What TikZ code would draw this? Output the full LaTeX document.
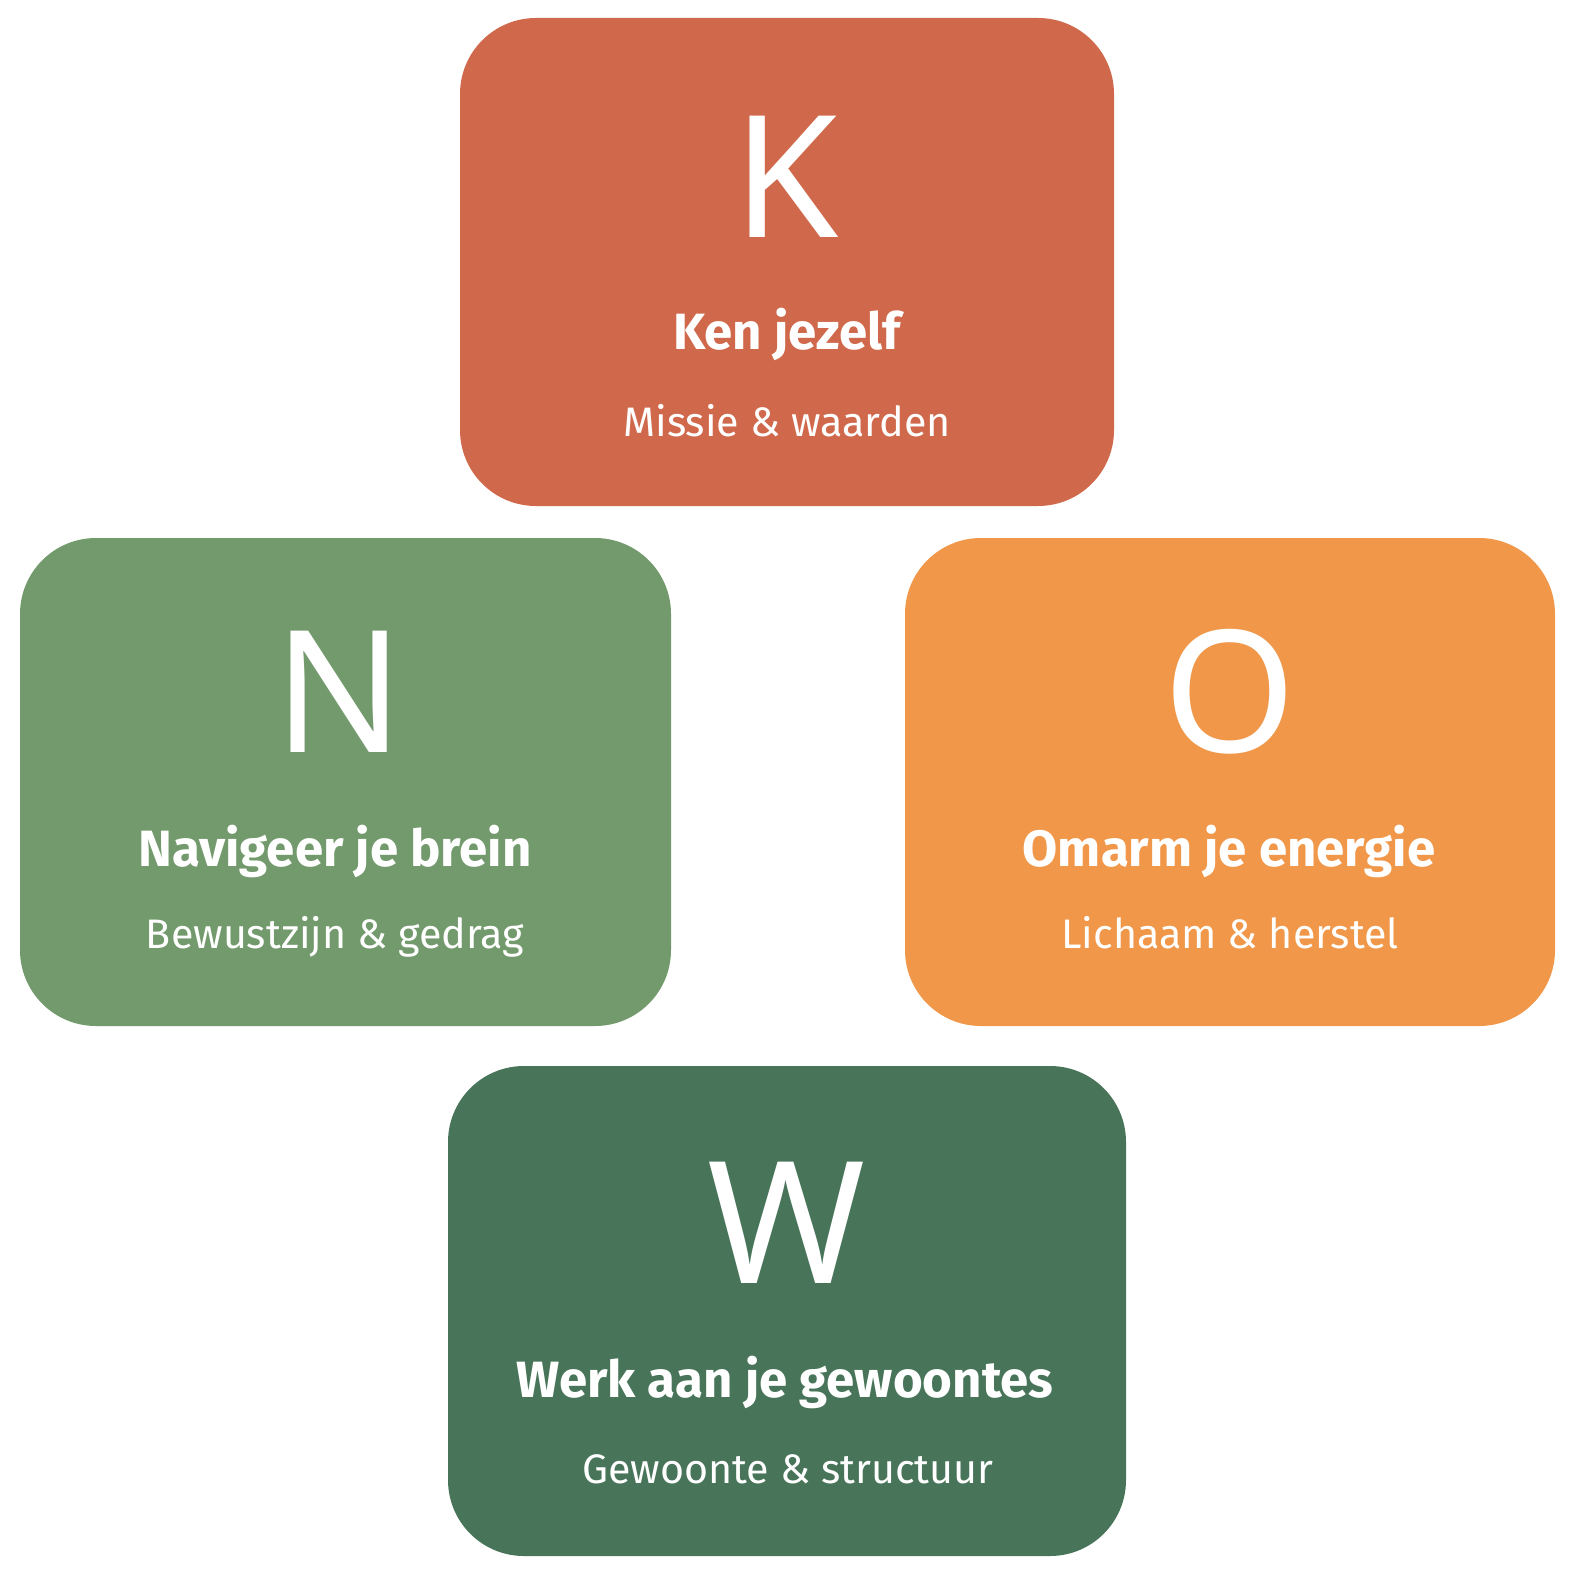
\documentclass[tikz,border=0pt]{standalone}
\usepackage{fontspec}
\setmainfont{Fira Sans}
\newfontfamily\letterf{Noto Sans}
\definecolor{kcol}{HTML}{D0694B}
\definecolor{ncol}{HTML}{739A6C}
\definecolor{ocol}{HTML}{F09749}
\definecolor{wcol}{HTML}{48755A}
\tikzset{
  card/.style={rounded corners=76bp},
  bigletter/.style={text=white, anchor=base, inner sep=0pt, font=\letterf\fontsize{170bp}{170bp}\selectfont},
  cardtitle/.style={text=white, anchor=base, inner sep=0pt, font=\bfseries\fontsize{51bp}{51bp}\selectfont},
  cardsub/.style={text=white, anchor=base, inner sep=0pt, font=\fontsize{41.2bp}{41.2bp}\selectfont},
}
\begin{document}
\begin{tikzpicture}[x=1bp,y=-1bp]
\useasboundingbox (0,0) rectangle (1573,1576);
\fill[white] (0,0) rectangle (1573,1576);
% K
\fill[kcol,card] (460,18) rectangle (1114,506);
\node[bigletter] (kl) at (786,237) {K};
\node[cardtitle] (kt) at (787,349) {Ken jezelf};
\node[cardsub] (ks) at (787,436) {Missie \& waarden};
% N
\fill[ncol,card] (20,538) rectangle (671,1026);
\node[bigletter] (nl) at (339,752) {N};
\node[cardtitle] (nt) at (335,866) {Navigeer je brein};
\node[cardsub] (ns) at (335,948) {Bewustzijn \& gedrag};
% O
\fill[ocol,card] (905,538) rectangle (1555,1026);
\node[bigletter] (ol) at (1230,752) {O};
\node[cardtitle] (ot) at (1229,866) {Omarm je energie};
\node[cardsub] (os) at (1230,948) {Lichaam \& herstel};
% W
\fill[wcol,card] (448,1066) rectangle (1126,1556);
\node[bigletter] (wl) at (787,1283) {W};
\node[cardtitle] (wt) at (785,1397) {Werk aan je gewoontes};
\node[cardsub] (ws) at (788,1483) {Gewoonte \& structuur};
\end{tikzpicture}
\end{document}
